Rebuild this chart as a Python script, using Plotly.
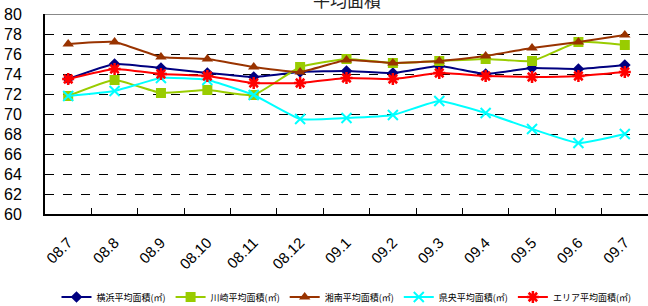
import plotly.graph_objects as go

months = ["08.7", "08.8", "08.9", "08.10", "08.11", "08.12", "09.1",
          "09.2", "09.3", "09.4", "09.5", "09.6", "09.7"]

yokohama = [73.5, 75.0, 74.6, 74.1, 73.7, 74.2, 74.3, 74.1, 74.8, 74.0, 74.6, 74.5, 74.9]
kawasaki = [71.8, 73.4, 72.1, 72.4, 71.9, 74.7, 75.5, 75.1, 75.3, 75.5, 75.3, 77.2, 76.9]
shonan = [77.0, 77.2, 75.7, 75.5, 74.7, 74.2, 75.4, 75.1, 75.3, 75.8, 76.6, 77.2, 77.9]
kenou = [71.8, 72.3, 73.6, 73.4, 71.9, 69.5, 69.6, 69.9, 71.3, 70.1, 68.5, 67.1, 68.0]
area = [73.5, 74.5, 74.0, 73.8, 73.1, 73.1, 73.6, 73.5, 74.1, 73.8, 73.7, 73.8, 74.2]

names = ["横浜平均面積(㎡)", "川崎平均面積(㎡)", "湘南平均面積(㎡)", "県央平均面積(㎡)", "エリア平均面積(㎡)"]
y_ticks = [60, 62, 64, 66, 68, 70, 72, 74, 76, 78, 80]
title_text = "平均面積"

series = [
    (yokohama, "#000080", dict(symbol="diamond", size=9, color="#000080")),
    (kawasaki, "#99CC00", dict(symbol="square", size=10, color="#99CC00")),
    (shonan, "#993300", dict(symbol="triangle-up", size=10, color="#993300")),
    (kenou, "#00FFFF", dict(symbol="x-thin-open", size=10, color="#00FFFF",
                            line=dict(width=2, color="#00FFFF"))),
    (area, "#FF0000", dict(symbol="asterisk-open", size=10, color="#FF0000",
                           line=dict(width=2.5, color="#FF0000"))),
]

fig = go.Figure()
for (vals, col, mk), nm in zip(series, names):
    fig.add_trace(go.Scatter(
        x=months, y=vals, name=nm, mode="lines+markers",
        line=dict(color=col, width=2, shape="spline", smoothing=0.4),
        marker=mk,
    ))

fig.update_layout(
    width=648, height=306,
    margin=dict(l=45, r=0, t=14, b=92, autoexpand=False),
    paper_bgcolor="white", plot_bgcolor="white",
    font=dict(family="Liberation Sans, Arial, sans-serif", color="black"),
    showlegend=True,
    legend=dict(orientation="h", x=0.5, xanchor="center",
                y=-0.415, yanchor="middle",
                font=dict(size=9, family="Noto Sans CJK JP"),
                itemwidth=30, tracegroupgap=0),
    annotations=[dict(text=title_text, xref="paper", x=0.5, xanchor="center",
                      yref="paper", y=1.075, yanchor="middle", showarrow=False,
                      font=dict(size=17, family="Noto Sans CJK JP", color="#222"))],
    shapes=[dict(type="line", xref="paper", yref="y", x0=0, x1=1, y0=80, y1=80,
                 line=dict(color="#888888", width=2))],
)

fig.update_xaxes(
    type="category", tickson="boundaries", ticks="inside", ticklen=6,
    tickcolor="black", showgrid=False, showline=True, linecolor="black",
    linewidth=2, tickangle=-45, tickfont=dict(size=15),
    ticklabelshift=0, ticklabelstandoff=12, automargin=False,
    range=[-0.5, 12.5],
)
fig.update_yaxes(
    range=[60, 80], tickvals=y_ticks, showline=True, linecolor="black",
    linewidth=2, showgrid=True, gridcolor="black", griddash="dash", gridwidth=1,
    tickfont=dict(size=16), ticks="outside", ticklen=18, tickcolor="rgba(0,0,0,0)",
    zeroline=False, automargin=False,
)

fig.write_html("out.html", config={"displayModeBar": False},
               post_script="document.body.style.margin='0';document.body.style.overflow='hidden';")
